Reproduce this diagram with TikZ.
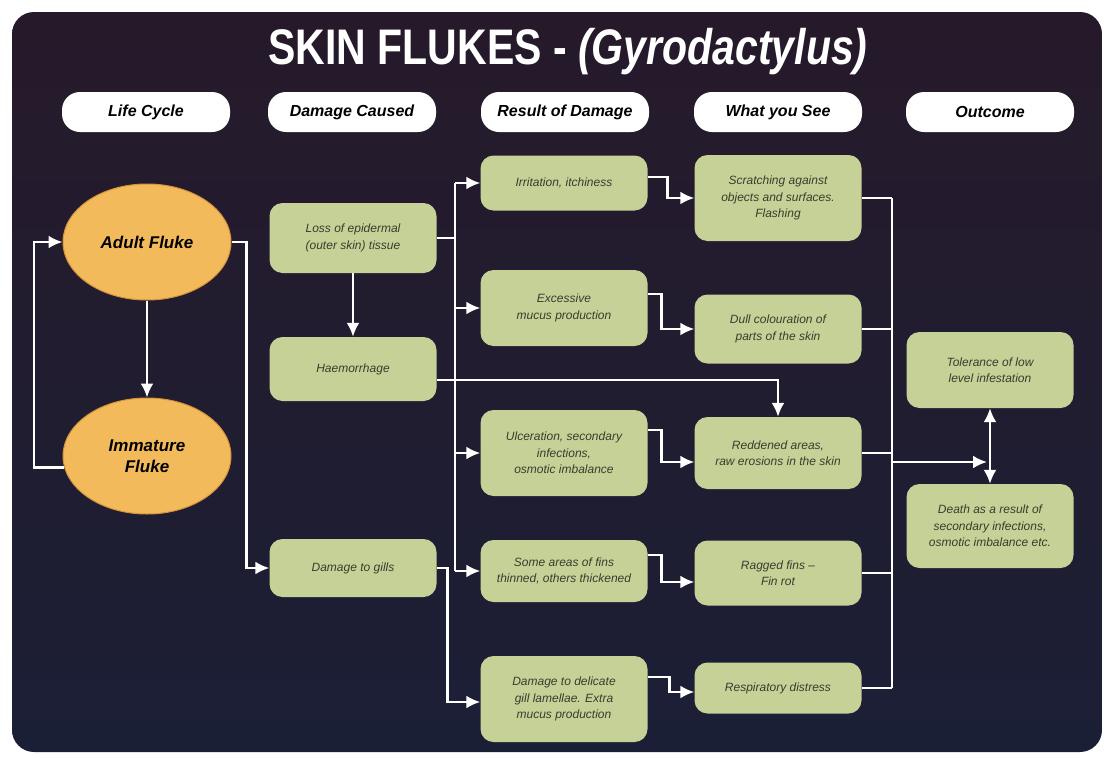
\documentclass[tikz,border=0pt]{standalone}
\usepackage{fontspec}
\setmainfont{Liberation Sans}
\newfontfamily\condfont[FakeStretch=0.82]{Liberation Sans}
\usepackage{tikz}
\usetikzlibrary{arrows.meta,shapes,positioning}

\definecolor{paneltop}{RGB}{38,26,42}
\definecolor{panelbot}{RGB}{27,31,54}
\definecolor{boxgreen}{RGB}{198,209,152}
\definecolor{boxtext}{RGB}{58,60,44}
\definecolor{flukeorange}{RGB}{243,186,92}
\definecolor{flukeedge}{RGB}{212,146,58}

\begin{document}
\begin{tikzpicture}[
  x = 1pt, y = -1pt,
  > = {Latex[length=14pt,width=13pt]},
  link/.style = {draw=white, line width=2.5pt},
  colhead/.style = {rectangle, rounded corners=18pt, fill=white,
                    minimum width=168pt, minimum height=40pt,
                    font=\fontsize{16}{18}\selectfont\bfseries\itshape},
  stage/.style = {ellipse, fill=flukeorange, draw=flukeedge, line width=1pt,
                  minimum width=168pt, minimum height=116pt, align=center,
                  font=\fontsize{17}{21}\selectfont\bfseries\itshape},
  effect/.style = {rectangle, rounded corners=13pt, fill=boxgreen, text=boxtext,
                   minimum width=167pt, inner sep=3pt, align=center,
                   font=\fontsize{12}{16.5}\selectfont\itshape}
]
\useasboundingbox (0,0) rectangle (1104,758);
\fill[white] (0,0) rectangle (1104,758);
\shade[top color=paneltop, bottom color=panelbot, rounded corners=22pt]
  (12,12) rectangle (1102,752);

% ───────── title ─────────
\node[text=white, font=\condfont\fontsize{50}{50}\selectfont\bfseries] (title) at (568,52)
  {SKIN FLUKES - \textit{(Gyrodactylus)}};

% ───────── column heads ─────────
\node[colhead] (hlife)   at (146,112) {Life Cycle};
\node[colhead] (hdamage) at (352,112) {Damage Caused};
\node[colhead] (hresult) at (565,112) {Result of Damage};
\node[colhead] (hsee)    at (778,112) {What you See};
\node[colhead] (hout)    at (990,112) {Outcome};

% ───────── life cycle ─────────
\node[stage] (adult) at (147,242) {Adult Fluke};
\node[stage] (immat) at (147,456) {Immature\\Fluke};

% ───────── damage caused ─────────
\node[effect, minimum height=70pt] (loss)  at (353,238) {Loss of epidermal\\(outer skin) tissue};
\node[effect, minimum height=64pt] (haem)  at (353,369) {Haemorrhage};
\node[effect, minimum height=58pt] (gills) at (353,568) {Damage to gills};

% ───────── result of damage ─────────
\node[effect, minimum height=55pt] (irrit) at (564,183) {Irritation, itchiness};
\node[effect, minimum height=76pt] (mucus) at (564,308) {Excessive\\mucus production};
\node[effect, minimum height=86pt] (ulcer) at (564,453) {Ulceration, secondary\\infections,\\osmotic imbalance};
\node[effect, minimum height=62pt] (fins)  at (564,571) {Some areas of fins\\thinned, others thickened};
\node[effect, minimum height=86pt] (lamel) at (564,699) {Damage to delicate\\gill lamellae. Extra\\mucus production};

% ───────── what you see ─────────
\node[effect, minimum height=86pt] (scratch) at (778,198) {Scratching against\\objects and surfaces.\\Flashing};
\node[effect, minimum height=69pt] (dull)    at (778,329) {Dull colouration of\\parts of the skin};
\node[effect, minimum height=72pt] (red)     at (778,453) {Reddened areas,\\raw erosions in the skin};
\node[effect, minimum height=65pt] (ragged)  at (778,573) {Ragged fins --\\Fin rot};
\node[effect, minimum height=51pt] (resp)    at (778,688) {Respiratory distress};

% ───────── outcome ─────────
\node[effect, minimum height=76pt] (toler) at (990,370) {Tolerance of low\\level infestation};
\node[effect, minimum height=84pt] (death) at (990,526) {Death as a result of\\secondary infections,\\osmotic imbalance etc.};

% ───────── arrows ──────────
\coordinate (busA) at (455,0);
\coordinate (busB) at (892,0);
\coordinate (mid)  at (990,462);

\draw[link,->] (adult) -- (immat);
\draw[link,->] (immat.188) -- ++(-30,0) |- (adult.west);
\draw[link,->] (adult.east) -- ++(15,0) |- (gills.west);

\draw[link,->] (loss) -- (haem);
\draw[link] (loss.east) -- (loss.east -| busA);
\draw[link] (irrit.west -| busA) -- (fins.west -| busA);
\foreach \n in {irrit,mucus,ulcer,fins}
  \draw[link,->] (\n.west -| busA) -- (\n.west);
\draw[link,->] ([yshift=-11pt]haem.east) -| (red.north);
\draw[link,->] (gills.east) -- ++(11,0) |- ([yshift=-3pt]lamel.west);

\draw[link,->] ([yshift=6pt]irrit.east)  -- ++(20,0) |- (scratch.west);
\draw[link,->] ([yshift=14pt]mucus.east) -- ++(14,0) |- (dull.west);
\draw[link,->] ([yshift=23pt]ulcer.east) -- ++(14,0) |- ([yshift=-9pt]red.west);
\draw[link,->] ([yshift=16pt]fins.east)  -- ++(14,0) |- ([yshift=-9pt]ragged.west);
\draw[link,->] ([yshift=22pt]lamel.east) -- ++(22,0) |- ([yshift=-4pt]resp.west);

\foreach \n in {scratch,dull,red,ragged,resp}
  \draw[link] (\n.east) -- (\n.east -| busB);
\draw[link] (scratch.east -| busB) -- (resp.east -| busB);
\draw[link,->] (busB |- mid) -- ([xshift=-3pt]mid);
\draw[link,<->] (toler.south) -- (death.north);
\end{tikzpicture}
\end{document}
